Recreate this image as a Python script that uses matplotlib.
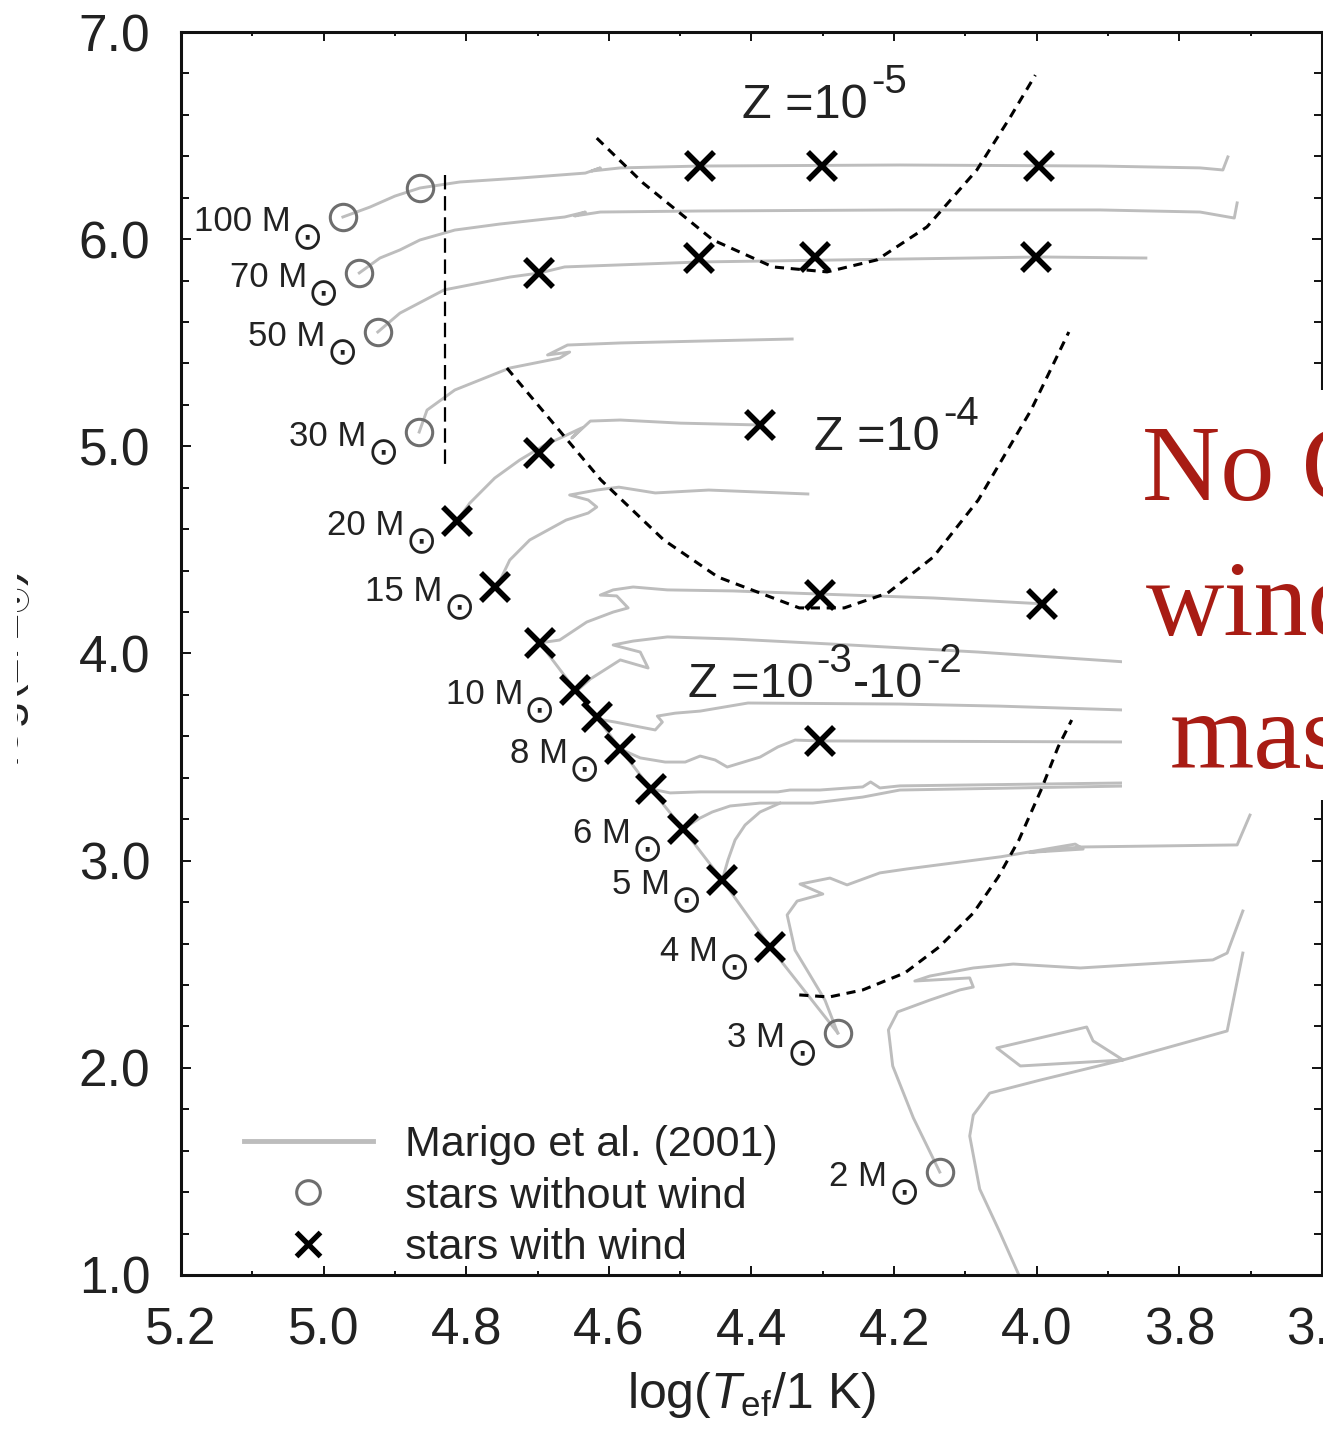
import matplotlib
matplotlib.use("Agg")
import matplotlib.pyplot as plt
from matplotlib.lines import Line2D
from matplotlib.patches import Rectangle
from matplotlib.transforms import IdentityTransform

plt.rcParams["font.family"] = ["Liberation Sans", "DejaVu Sans"]
plt.rcParams["mathtext.fontset"] = "custom"
plt.rcParams["mathtext.rm"] = "Liberation Sans"
plt.rcParams["mathtext.it"] = "Liberation Sans:italic"
plt.rcParams["mathtext.bf"] = "Liberation Sans:bold"

# ---------------- evolutionary tracks (log Teff, log L/Lsun) ----------------
t100_logt = [4.973, 4.935, 4.900, 4.865, 4.809, 4.725, 4.633, 4.612, 4.624, 4.584, 4.472, 4.192, 3.911, 3.771, 3.739, 3.732]
t100_logl = [6.107, 6.155, 6.208, 6.247, 6.276, 6.295, 6.319, 6.344, 6.329, 6.344, 6.353, 6.358, 6.353, 6.344, 6.334, 6.397]

t70_logt = [4.950, 4.921, 4.893, 4.865, 4.816, 4.753, 4.662, 4.633, 4.648, 4.612, 4.472, 4.192, 3.911, 3.771, 3.723, 3.719]
t70_logl = [5.837, 5.909, 5.948, 5.996, 6.044, 6.073, 6.107, 6.131, 6.112, 6.131, 6.136, 6.141, 6.141, 6.131, 6.102, 6.175]

t50_logt = [4.924, 4.893, 4.831, 4.739, 4.697, 4.662, 4.472, 4.192, 3.995, 3.847]
t50_logl = [5.552, 5.643, 5.755, 5.817, 5.837, 5.866, 5.890, 5.904, 5.914, 5.909]

t30_logt = [4.866, 4.855, 4.816, 4.739, 4.669, 4.655, 4.686, 4.658, 4.584, 4.472, 4.343]
t30_logl = [5.069, 5.175, 5.272, 5.378, 5.426, 5.455, 5.441, 5.489, 5.499, 5.508, 5.518]

t20_logt = [4.813, 4.795, 4.760, 4.725, 4.690, 4.662, 4.638, 4.652, 4.626, 4.584, 4.500, 4.388]
t20_logl = [4.640, 4.726, 4.847, 4.934, 5.006, 5.050, 5.089, 5.040, 5.122, 5.127, 5.112, 5.103]

t15_logt = [4.757, 4.739, 4.711, 4.660, 4.629, 4.617, 4.629, 4.655, 4.617, 4.586, 4.535, 4.460, 4.321]
t15_logl = [4.321, 4.451, 4.548, 4.644, 4.678, 4.707, 4.741, 4.765, 4.789, 4.803, 4.775, 4.789, 4.770]

t12_logt = [4.697, 4.669, 4.631, 4.594, 4.573, 4.589, 4.612, 4.594, 4.566, 4.518, 4.426, 4.304, 4.145, 3.988]
t12_logl = [4.051, 4.065, 4.152, 4.200, 4.220, 4.278, 4.282, 4.307, 4.321, 4.307, 4.302, 4.287, 4.268, 4.239]

t10_logt = [4.645, 4.626, 4.584, 4.545, 4.556, 4.594, 4.566, 4.518, 4.426, 4.262, 4.082, 3.875]
t10_logl = [3.819, 3.877, 3.969, 3.930, 4.007, 4.041, 4.060, 4.080, 4.070, 4.041, 4.007, 3.959]

t9_logt = [4.617, 4.591, 4.556, 4.535, 4.525, 4.532, 4.507, 4.472, 4.405, 4.192, 4.052, 3.875]
t9_logl = [3.684, 3.669, 3.645, 3.631, 3.669, 3.698, 3.712, 3.722, 3.761, 3.756, 3.746, 3.727]

t8_logt = [4.584, 4.556, 4.521, 4.493, 4.472, 4.451, 4.434, 4.388, 4.363, 4.339, 4.304, 3.876]
t8_logl = [3.539, 3.496, 3.476, 3.476, 3.505, 3.486, 3.452, 3.500, 3.549, 3.582, 3.578, 3.573]

t7_logt = [4.541, 4.514, 4.472, 4.416, 4.363, 4.346, 4.304, 4.244, 4.233, 4.220, 4.192, 3.880]
t7_logl = [3.346, 3.327, 3.332, 3.332, 3.332, 3.341, 3.341, 3.356, 3.380, 3.351, 3.361, 3.375]

t6_logt = [4.496, 4.472, 4.455, 4.430, 4.388, 4.360, 4.314, 4.244, 4.192, 3.880]
t6_logl = [3.153, 3.206, 3.235, 3.264, 3.278, 3.278, 3.278, 3.307, 3.341, 3.360]

t5_logt = [4.441, 4.433, 4.423, 4.409, 4.388, 4.360]
t5_logl = [2.907, 3.003, 3.100, 3.172, 3.235, 3.278]

zams_logt = [4.697, 4.647, 4.617, 4.584, 4.541, 4.496, 4.441, 4.374, 4.279]
zams_logl = [4.051, 3.824, 3.693, 3.539, 3.346, 3.153, 2.907, 2.583, 2.168]

t3_logt = [4.279, 4.297, 4.318, 4.339, 4.350, 4.336, 4.300, 4.332, 4.290, 4.266, 4.220, 4.182,
           4.050, 3.946, 3.935, 4.010, 3.939, 3.719, 3.701]
t3_logl = [2.168, 2.327, 2.448, 2.568, 2.738, 2.805, 2.839, 2.887, 2.916, 2.883, 2.941, 2.960,
           3.019, 3.080, 3.056, 3.040, 3.066, 3.076, 3.220]

t2_logt = [4.136, 4.173, 4.202, 4.208, 4.195, 4.150, 4.108, 4.089, 4.094, 4.171, 4.150, 4.089, 4.033, 3.939, 3.753, 3.733, 3.711]
t2_logl = [1.497, 1.758, 2.009, 2.183, 2.270, 2.327, 2.376, 2.390, 2.434, 2.419, 2.443, 2.482, 2.501, 2.482, 2.521, 2.554, 2.757]

t15b_logt = [4.016, 4.052, 4.080, 4.094, 4.089, 4.066, 3.995, 3.879, 3.921, 3.930, 4.056, 4.023, 3.879, 3.733, 3.711]
t15b_logl = [0.930, 1.208, 1.415, 1.671, 1.772, 1.878, 1.941, 2.038, 2.130, 2.197, 2.096, 2.009, 2.038, 2.178, 2.554]

# ---------------- model stars ----------------
nowind_logt = [4.973, 4.865, 4.950, 4.924, 4.866, 4.279, 4.136]
nowind_logl = [6.107, 6.247, 5.837, 5.552, 5.069, 2.168, 1.497]

wind_logt = [4.472, 4.301, 3.997, 4.474, 4.311, 4.001, 4.698, 4.388, 4.698, 4.813, 4.760,
             4.304, 3.993, 4.697, 4.647, 4.617, 4.584, 4.541, 4.496, 4.441, 4.374, 4.304]
wind_logl = [6.353, 6.353, 6.353, 5.910, 5.914, 5.915, 5.837, 5.103, 4.968, 4.640, 4.321,
             4.282, 4.239, 4.051, 3.824, 3.693, 3.539, 3.346, 3.153, 2.907, 2.583, 3.578]

# mass labels attached to the zero-age points
mass_names = ["100", "70", "50", "30", "20", "15", "10", "8", "6", "5", "4", "3", "2"]
mass_logt = [4.973, 4.950, 4.924, 4.866, 4.813, 4.760, 4.647, 4.584, 4.496, 4.441, 4.374, 4.279, 4.136]
mass_logl = [6.107, 5.837, 5.552, 5.069, 4.640, 4.321, 3.824, 3.539, 3.153, 2.907, 2.583, 2.168, 1.497]

# ---------------- boundaries of the wind regions ----------------
z5_logt = [4.617, 4.552, 4.454, 4.370, 4.294, 4.224, 4.154, 4.084, 4.037, 4.002]
z5_logl = [6.488, 6.271, 5.996, 5.866, 5.842, 5.900, 6.059, 6.334, 6.590, 6.792]

z4_logt = [4.743, 4.611, 4.523, 4.447, 4.333, 4.270, 4.209, 4.145, 4.082, 4.008, 3.955]
z4_logl = [5.378, 4.837, 4.548, 4.369, 4.220, 4.220, 4.292, 4.466, 4.741, 5.175, 5.552]

z3_logt = [4.333, 4.291, 4.244, 4.185, 4.137, 4.089, 4.054, 4.025, 3.994, 3.970, 3.951]
z3_logl = [2.352, 2.342, 2.376, 2.458, 2.583, 2.747, 2.921, 3.100, 3.341, 3.549, 3.679]

edge_logt = [4.830, 4.830]
edge_logl = [6.310, 4.886]

# region labels: (text runs, anchor) ; runs are (string, is_superscript)
zlabel_runs = [
    [("Z =10", False), ("-5", True)],
    [("Z =10", False), ("-4", True)],
    [("Z =10", False), ("-3", True), ("-10", False), ("-2", True)],
]
zlabel_logt = [4.413, 4.312, 4.489]
zlabel_logl = [6.585, 4.982, 3.790]

W, H = 1323, 1431
fig = plt.figure(figsize=(W / 100, H / 100), dpi=100)
ax = fig.add_axes([181 / W, 1 - 1275 / H, (1322 - 181) / W, (1275 - 32) / H])
ax.set_xlim(5.2, 3.6)
ax.set_ylim(1.0, 7.0)

track_color = "#bdbdbd"
tracks = [
    (t100_logt, t100_logl), (t70_logt, t70_logl), (t50_logt, t50_logl), (t30_logt, t30_logl),
    (t20_logt, t20_logl), (t15_logt, t15_logl), (t12_logt, t12_logl), (t10_logt, t10_logl),
    (t9_logt, t9_logl), (t8_logt, t8_logl), (t7_logt, t7_logl), (t6_logt, t6_logl),
    (t5_logt, t5_logl), (zams_logt, zams_logl), (t3_logt, t3_logl), (t2_logt, t2_logl),
    (t15b_logt, t15b_logl),
]
for lt, ll in tracks:
    ax.plot(lt, ll, color=track_color, lw=2.1, zorder=1, solid_joinstyle="round")

dash_kw = dict(color="black", lw=2.2, linestyle=(0, (3.0, 2.2)), zorder=2)
ax.plot(z5_logt, z5_logl, **dash_kw)
ax.plot(z4_logt, z4_logl, **dash_kw)
ax.plot(z3_logt, z3_logl, **dash_kw)
ax.plot(edge_logt, edge_logl, color="black", lw=1.6, linestyle=(0, (6.5, 3)), zorder=2)

ax.plot(nowind_logt, nowind_logl, linestyle="none", marker="o", ms=19, mfc="none",
        mec="#6e6e6e", mew=2.2, zorder=3)
ax.plot(wind_logt, wind_logl, linestyle="none", marker="x", ms=19.5, mec="black",
        mew=4.0, zorder=4)

ax.set_xticks([5.2, 5.0, 4.8, 4.6, 4.4, 4.2, 4.0, 3.8, 3.6])
ax.set_xticks([5.1, 4.9, 4.7, 4.5, 4.3, 4.1, 3.9, 3.7], minor=True)
ax.set_yticks([1.0, 2.0, 3.0, 4.0, 5.0, 6.0, 7.0])
ax.set_yticks([1.2, 1.4, 1.6, 1.8, 2.2, 2.4, 2.6, 2.8, 3.2, 3.4, 3.6, 3.8, 4.2, 4.4, 4.6, 4.8,
               5.2, 5.4, 5.6, 5.8, 6.2, 6.4, 6.6, 6.8], minor=True)
ax.set_xticklabels(["%.1f" % v for v in [5.2, 5.0, 4.8, 4.6, 4.4, 4.2, 4.0, 3.8, 3.6]])
ax.set_yticklabels(["%.1f" % v for v in [1.0, 2.0, 3.0, 4.0, 5.0, 6.0, 7.0]])
ax.tick_params(which="both", direction="in", top=True, right=True, width=1.4,
               labelsize=37, labelcolor="#222222", color="#111111")
ax.tick_params(axis="x", which="major", length=6.5, pad=23)
ax.tick_params(axis="x", which="minor", length=3)
ax.tick_params(axis="y", which="major", length=7, pad=22)
ax.tick_params(axis="y", which="minor", length=6)
for sp in ax.spines.values():
    sp.set_linewidth(2.2)
    sp.set_color("#111111")

ax.set_xlabel(r"log($T_\mathrm{ef}$/1 K)", fontsize=36, color="#222222", labelpad=10)

handles = [
    Line2D([], [], color=track_color, lw=3.5),
    Line2D([], [], linestyle="none", marker="o", ms=17, mfc="none", mec="#6e6e6e", mew=2.2),
    Line2D([], [], linestyle="none", marker="x", ms=17, mec="black", mew=3.8),
]
ax.legend(handles, ["Marigo et al. (2001)", "stars without wind", "stars with wind"],
          loc="lower left", bbox_to_anchor=(0.04, -0.008), frameon=False, fontsize=31,
          handlelength=3.0, handletextpad=0.75, labelspacing=0.26, borderaxespad=0.0,
          labelcolor="#222222")

renderer = fig.canvas.get_renderer()


def place_runs(runs, x0, y0, ha="left"):
    """Lay out text runs side by side in display pixels, starting (or ending) at x0."""
    objs, widths = [], []
    for s, size, dx, dy, fam in runs:
        t = fig.text(0, 0, s, fontsize=size, family=fam, color="#222222",
                     ha="left", va="baseline", transform=IdentityTransform(), zorder=5)
        objs.append(t)
        widths.append(t.get_window_extent(renderer).width + dx)
    total = sum(widths)
    cur = x0 - total if ha == "right" else x0
    for t, w, (s, size, dx, dy, fam) in zip(objs, widths, runs):
        t.set_position((cur + dx, y0 + dy))
        cur += w


# mass labels: "<n> M" followed by a lowered solar symbol
for name, lt, ll in zip(mass_names, mass_logt, mass_logl):
    px, py = ax.transData.transform((lt, ll))
    place_runs([(name + " M", 25, 0, 0, "Liberation Sans"),
                ("\u2299", 27, 1, -18, "DejaVu Sans")],
               px - 20, py - 14, ha="right")

# metallicity labels with raised exponents
for runs, lt, ll in zip(zlabel_runs, zlabel_logt, zlabel_logl):
    px, py = ax.transData.transform((lt, ll))
    place_runs([(s, 29 if sup else 35, 3 if sup else 0, 25 if sup else 0, "Liberation Sans")
                for s, sup in runs], px, py)

# luminosity axis title, mostly outside the figure
fig.text(19 / W, 1 - 668 / H, r"log($L$/L$_{\odot}$)", rotation=90, rotation_mode="anchor",
         ha="center", va="baseline", fontsize=36, color="#222222")
fig.add_artist(Rectangle((0, 0), 16.5 / W, 1, transform=fig.transFigure,
                         facecolor="white", edgecolor="none", zorder=10))

# overlaid note
fig.add_artist(Rectangle((1122 / W, 1 - 800 / H), 0.2, (800 - 390) / H,
                         transform=fig.transFigure, facecolor="white", edgecolor="none",
                         zorder=10))
for txt, px, py in [("No C", 1142, 500), ("wind", 1146, 635), ("mass", 1170, 768)]:
    fig.text(px / W, 1 - py / H, txt, fontsize=78, family="Liberation Serif",
             color="#a81c14", ha="left", va="baseline", zorder=11)

fig.savefig("out.png", dpi=100)
